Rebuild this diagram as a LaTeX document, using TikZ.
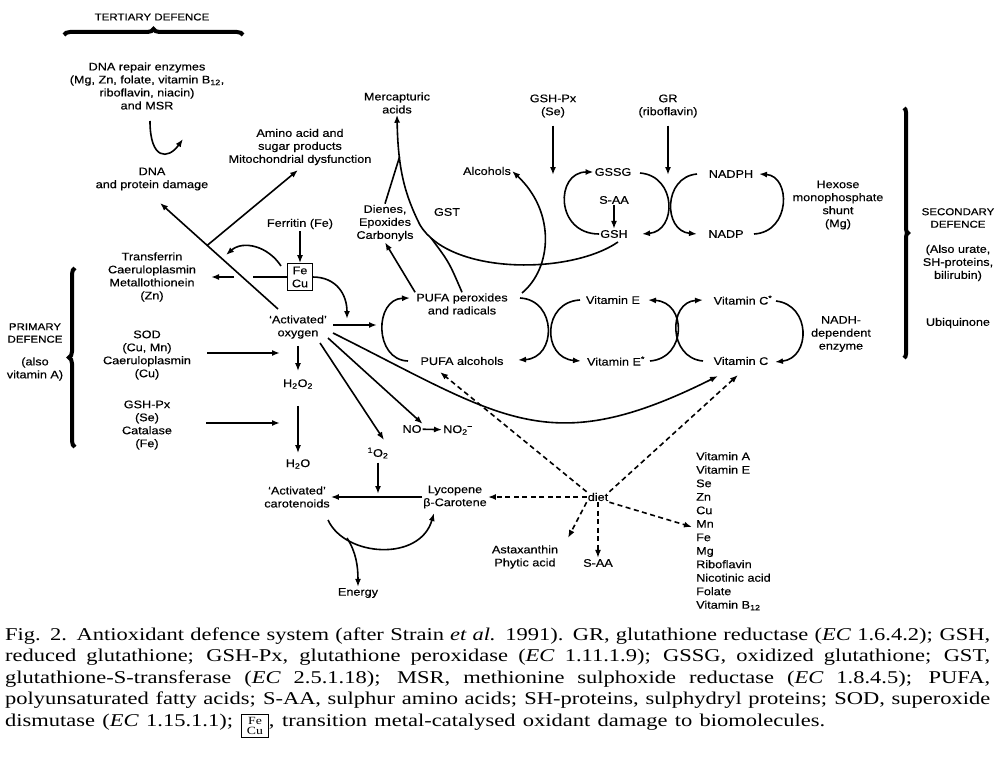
\documentclass[tikz,border=0pt]{standalone}
\usepackage{fontspec}
\usetikzlibrary{arrows.meta,decorations.pathreplacing,calc}
\newfontfamily\dgfont[FakeStretch=1.15,FakeBold=0.35]{Liberation Sans}
\newfontfamily\capfont[FakeStretch=1.25]{Liberation Serif}
\newcommand\dgm{\dgfont\fontsize{11}{13}\selectfont}
\newcommand\dgc{\dgfont\fontsize{10}{12.5}\selectfont}
\newcommand\cpf{\capfont\fontsize{18}{21.5}\selectfont}
\tikzset{
  lbl/.style={font=\dgm, align=center, inner sep=1pt},
  caps/.style={font=\dgc, align=center, inner sep=1pt},
  ln/.style={line width=1.6pt},
  arr/.style={line width=1.6pt, -{Latex[length=8pt,width=6pt]}},
  darr/.style={line width=1.6pt, dash pattern=on 5pt off 3.5pt, -{Latex[length=8pt,width=6pt]}},
  brc/.style={decorate, decoration={brace, amplitude=#1}, line width=4pt},
  brc/.default=6pt,
  capl/.style={anchor=base west, inner sep=0pt, font=\cpf},
}
\begin{document}
\begin{tikzpicture}[x=1pt,y=-1pt]
\useasboundingbox (0,0) rectangle (997,768);
\fill[white] (0,0) rectangle (997,768);

% ---------- labels ----------
\node[caps] (tert) at (152,17) {TERTIARY DEFENCE};
\node[lbl] (dnarep) at (147,86) {DNA repair enzymes\\(Mg, Zn, folate, vitamin B\textsubscript{12},\\riboflavin, niacin)\\and MSR};
\node[lbl] (dnadam) at (152,179) {DNA\\and protein damage};
\node[lbl] (amino) at (300,147) {Amino acid and\\sugar products\\Mitochondrial dysfunction};
\node[lbl] (merc) at (397,103) {Mercapturic\\acids};
\node[lbl] (gshpx) at (553,106) {GSH-Px\\(Se)};
\node[lbl] (gr) at (668,106) {GR\\(riboflavin)};
\node[lbl] (alc) at (487,171) {Alcohols};
\node[lbl] (gssg) at (613,172) {GSSG};
\node[lbl] (saa) at (614,200) {S-AA};
\node[lbl] (gsh) at (614,234) {GSH};
\node[lbl] (nadph) at (731,174) {NADPH};
\node[lbl] (nadp) at (726,234) {NADP};
\node[lbl] (hexose) at (838,205) {Hexose\\monophosphate\\shunt\\(Mg)};
\node[caps] (secd) at (958,218) {SECONDARY\\DEFENCE};
\node[lbl] (alsou) at (958,263) {(Also urate,\\SH-proteins,\\bilirubin)};
\node[lbl] (ubiq) at (958,323) {Ubiquinone};
\node[lbl] (ferr) at (300,224) {Ferritin (Fe)};
\node[draw, line width=1.1pt, inner xsep=4pt, inner ysep=3pt, font=\dgm, align=center] (fecu) at (300,277) {Fe\\Cu};
\node[lbl] (transf) at (152,277) {Transferrin\\Caeruloplasmin\\Metallothionein\\(Zn)};
\node[lbl] (actox) at (298,327) {‘Activated’\\oxygen};
\node[lbl] (pufap) at (462,304) {PUFA peroxides\\and radicals};
\node[lbl] (pufaa) at (462,361) {PUFA alcohols};
\node[lbl] (vite) at (613,300) {Vitamin E};
\node[lbl] (vites) at (616,361) {Vitamin E\textsuperscript{*}};
\node[lbl] (vitcs) at (743,300) {Vitamin C\textsuperscript{*}};
\node[lbl] (vitc) at (741,361) {Vitamin C};
\node[lbl] (nadh) at (841,334) {NADH-\\dependent\\enzyme};
\node[lbl] (dienes) at (385,223) {Dienes,\\Epoxides\\Carbonyls};
\node[lbl] (gst) at (447,212) {GST};
\node[caps] (prim) at (35,333) {PRIMARY\\DEFENCE};
\node[lbl] (alsoa) at (35,369) {(also\\vitamin A)};
\node[lbl] (sod) at (147,355) {SOD\\(Cu, Mn)\\Caeruloplasmin\\(Cu)};
\node[lbl] (gshpxb) at (147,425) {GSH-Px\\(Se)\\Catalase\\(Fe)};
\node[lbl] (h2o2) at (298,384) {H\textsubscript{2}O\textsubscript{2}};
\node[lbl] (h2o) at (298,464) {H\textsubscript{2}O};
\node[lbl] (actcar) at (297,497) {‘Activated’\\carotenoids};
\node[lbl] (lyco) at (455,497) {Lycopene\\β-Carotene};
\node[lbl] (singo) at (378,453) {\textsuperscript{1}O\textsubscript{2}};
\node[lbl] (no) at (412,429) {NO};
\node[lbl] (notwo) at (458,430) {NO\textsubscript{2}\kern-0.5pt\textsuperscript{−}};
\node[lbl] (diet) at (598,497) {diet};
\node[lbl] (asta) at (525,557) {Astaxanthin\\Phytic acid};
\node[lbl] (saab) at (598,563) {S-AA};
\node[lbl, align=left, anchor=north west, font=\dgfont\fontsize{11}{13.5}\selectfont] (vitl) at (695,451) {Vitamin A\\Vitamin E\\Se\\Zn\\Cu\\Mn\\Fe\\Mg\\Riboflavin\\Nicotinic acid\\Folate\\Vitamin B\textsubscript{12}};
\node[lbl] (energy) at (358,593) {Energy};

% ---------- braces ----------
\draw[brc] (64,35) -- (243,35);
\draw[brc] (75,447) -- (75,268);
\draw[brc=4pt] (904,108) -- (904,358);

% ---------- tertiary ----------
\coordinate (rp1) at (150,121);
\coordinate (rp2) at (183,139);
\draw[arr] (rp1) .. controls (150,160) and (168,160) .. (rp2);

\coordinate (ao1) at (278,309);
\coordinate (dd1) at (160,203);
\draw[arr] (ao1) -- (dd1);
\coordinate (br1) at ($(ao1)!0.6!(dd1)$);
\coordinate (am1) at (298,170);
\draw[arr] (br1) -- (am1);

% ---------- metals ----------
\draw[arr, shorten <=1pt] (ferr) -- (fecu);
\coordinate (g1) at (253,277);
\coordinate (g2) at (234,277);
\coordinate (tf1) at (211,277);
\draw[ln] (fecu.west) -- (g1);
\draw[arr] (g2) -- (tf1);
\coordinate (fc1) at (281,266);
\coordinate (tf2) at (226,255);
\draw[arr] (fc1) .. controls (268,246) and (243,240) .. (tf2);
\coordinate (ox1) at (347,319);
\draw[arr] (fecu.east) .. controls (336,277) and (347,294) .. (ox1);

% ---------- oxygen ----------
\coordinate (ao2) at (333,325);
\coordinate (pc1) at (377,325);
\draw[arr] (ao2) -- (pc1);
\coordinate (s1) at (207,353);
\coordinate (s2) at (280,353);
\draw[arr] (s1) -- (s2);
\coordinate (c1) at (206,423);
\coordinate (c2) at (280,423);
\draw[arr] (c1) -- (c2);
\draw[arr, shorten <=6pt, shorten >=7pt] (actox) -- (h2o2);
\draw[arr, shorten <=16pt, shorten >=5pt] (h2o2) -- (h2o);

\coordinate (ao3) at (333,333);
\coordinate (vc1) at (718,376);
\draw[arr] (ao3) .. controls (503,418) and (548,461) .. (vc1);
\coordinate (ao4) at (328,338);
\draw[arr] (ao4) -- (no.north east);
\draw[arr] (no) -- (notwo);
\coordinate (ao5) at (320,343);
\coordinate (so1) at (384,440);
\draw[arr] (ao5) -- (so1);
\coordinate (lc1) at (378,494);
\draw[arr, shorten <=3pt] (singo) -- (lc1);
\draw[arr] (lyco.west) -- (actcar.east);
\coordinate (ca1) at (328,520);
\coordinate (ca2) at (434,513);
\draw[arr] (ca1) .. controls (345,557) and (420,562) .. (ca2);
\coordinate (en1) at (347,538);
\draw[arr] (en1) .. controls (356,552) and (358,566) .. (energy.north);

% ---------- diet ----------
\draw[darr] (diet.west) -- (lyco.east);
\coordinate (pa1) at (440,372);
\draw[darr] (diet.north west) -- (pa1);
\coordinate (vc2) at (738,375);
\draw[darr] (diet.north east) -- (vc2);
\coordinate (as1) at (568,538);
\draw[darr] (diet.south west) -- (as1);
\draw[darr] (diet) -- (saab);
\coordinate (mn1) at (692,527);
\draw[darr] (diet.south east) -- (mn1);

% ---------- PUFA products ----------
\draw[arr] (pufap.north west) -- (dienes.south);
\coordinate (gs1) at (618,242);
\coordinate (gs2) at (420,225);
\draw[arr] (gs1) .. controls (570,275) and (450,275) .. (gs2) .. controls (405,195) and (398,170) .. (merc.south);
\coordinate (jn1) at (399.5,157);
\draw[ln] (dienes.north) -- (jn1);
\coordinate (gs3) at (431,238);
\draw[ln] (pufap.north) .. controls (449,262) .. (gs3);
\coordinate (pp1) at (522,293);
\draw[arr] (pp1) .. controls (552,268) and (556,212) .. (alc.east);

% ---------- glutathione ----------
\coordinate (gp1) at (553,175);
\coordinate (gr1) at (668,175);
\draw[arr, shorten <=7pt] (gshpx.south) -- (gp1);
\draw[arr, shorten <=7pt] (gr.south) -- (gr1);
\draw[arr] (saa) -- (gsh);
\draw[arr] (gsh.west) .. controls (555,234) and (555,172) .. (gssg.west);
\coordinate (gs4) at (640,173);
\coordinate (gs5) at (642,234);
\draw[arr] (gs4) .. controls (677,176) and (677,231) .. (gs5);
\coordinate (np1) at (697,174);
\coordinate (np2) at (697,234);
\draw[arr] (np1) .. controls (663,177) and (663,231) .. (np2);
\coordinate (np3) at (754,234);
\coordinate (np4) at (759,174);
\draw[arr] (np3) .. controls (791,232) and (791,176) .. (np4);

% ---------- PUFA / vitamin cycles ----------
\coordinate (pl1) at (408,361);
\coordinate (pl2) at (410,298);
\draw[arr] (pl1) .. controls (374,360) and (374,299) .. (pl2);
\coordinate (pr1) at (520,298);
\coordinate (pr2) at (518,360);
\draw[arr] (pr1) .. controls (557,300) and (557,358) .. (pr2);
\coordinate (el1) at (580,300);
\coordinate (el2) at (581,361);
\draw[arr] (el1) .. controls (542,302) and (542,358) .. (el2);
\coordinate (er1) at (650,361);
\coordinate (er2) at (648,300);
\draw[arr] (er1) .. controls (687,358) and (687,302) .. (er2);
\coordinate (cl1) at (703,361);
\coordinate (cl2) at (703,300);
\draw[arr] (cl1) .. controls (668,358) and (668,302) .. (cl2);
\coordinate (cr1) at (776,301);
\coordinate (cr2) at (775,362);
\draw[arr] (cr1) .. controls (811,305) and (811,358) .. (cr2);

% ---------- caption ----------
\node[capl] (cap1) at (5,640) {\makebox[985pt][s]{Fig. 2. Antioxidant defence system (after Strain \textit{et al.} 1991). GR, glutathione reductase (\textit{EC} 1.6.4.2); GSH,}};
\node[capl] (cap2) at (5,661.5) {\makebox[985pt][s]{reduced glutathione; GSH-Px, glutathione peroxidase (\textit{EC} 1.11.1.9); GSSG, oxidized glutathione; GST,}};
\node[capl] (cap3) at (5,683) {\makebox[985pt][s]{glutathione-S-transferase (\textit{EC} 2.5.1.18); MSR, methionine sulphoxide reductase (\textit{EC} 1.8.4.5); PUFA,}};
\node[capl] (cap4) at (5,704.5) {\makebox[985pt][s]{polyunsaturated fatty acids; S-AA, sulphur amino acids; SH-proteins, sulphydryl proteins; SOD, superoxide}};
\node[capl] (cap5) at (5,726) {\makebox[820pt][s]{dismutase (\textit{EC} 1.15.1.1); \raisebox{-0.42\height}{\setlength\fboxsep{2pt}\setlength\fboxrule{0.9pt}\fbox{\makebox[22pt]{\fontsize{11}{11}\selectfont\shortstack{Fe\\Cu}}}}, transition metal-catalysed oxidant damage to biomolecules.}};
\end{tikzpicture}
\end{document}
